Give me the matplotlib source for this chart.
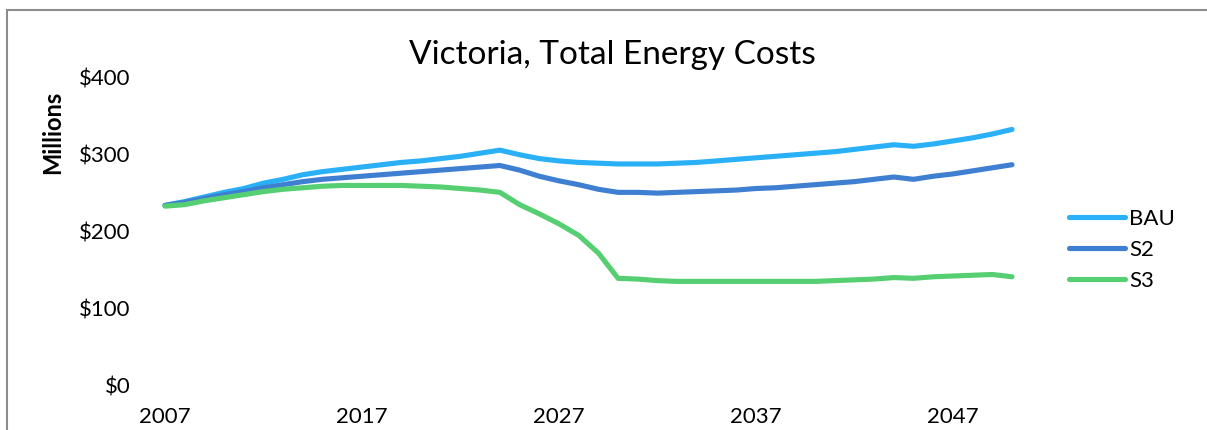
import matplotlib.pyplot as plt
from matplotlib.patches import Rectangle

years = list(range(2007, 2051))

bau = [234, 239, 245, 251, 256, 263, 268, 274, 278, 281,
       284, 287, 290, 292, 295, 298, 302, 306, 300, 295,
       292, 290, 289, 288, 288, 288, 289, 290, 292, 294,
       296, 298, 300, 302, 304, 307, 310, 313, 311, 314,
       318, 322, 327, 333]
s2 = [234, 238, 243, 248, 252, 257, 261, 265, 268, 270,
      272, 274, 276, 278, 280, 282, 284, 286, 280, 272,
      266, 261, 255, 251, 251, 250, 251, 252, 253, 254,
      256, 257, 259, 261, 263, 265, 268, 271, 268, 272,
      275, 279, 283, 287]
s3 = [233, 235, 240, 244, 248, 252, 255, 257, 259, 260,
      260, 260, 260, 259, 258, 256, 254, 251, 235, 223,
      210, 195, 172, 139, 138, 136, 135, 135, 135, 135,
      135, 135, 135, 135, 136, 137, 138, 140, 139, 141,
      142, 143, 144, 141]

series = [("BAU", bau, "#29B0F7"), ("S2", s2, "#3F7FD2"), ("S3", s3, "#56CF72")]
ytick_vals = [0, 100, 200, 300, 400]
xtick_vals = [2007, 2017, 2027, 2037, 2047]

plt.rcParams['font.family'] = ['Lato', 'DejaVu Sans']

W, H = 1207, 430
fig = plt.figure(figsize=(W / 100, H / 100), dpi=100)
ax = fig.add_axes([165 / W, (H - 385) / H, (1012 - 165) / W, (385 - 78) / H])

for name, vals, col in series:
    ax.plot(years, vals, color=col, lw=3.7, label=name, clip_on=False,
            solid_capstyle='round', solid_joinstyle='round')

ax.set_xlim(2007, 2050)
ax.set_ylim(0, 400)
ax.set_xticks(xtick_vals)
ax.set_xticklabels([str(v) for v in xtick_vals])
ax.set_yticks(ytick_vals)
ax.set_yticklabels(["$" + str(v) for v in ytick_vals])
ax.tick_params(length=0, labelsize=16, colors='black')
ax.tick_params(axis='y', pad=25)
ax.tick_params(axis='x', pad=16)
for sp in ax.spines.values():
    sp.set_visible(False)

fig.text(612 / W, (H - 55) / H, "Victoria, Total Energy Costs",
         ha='center', va='center', fontsize=24)
fig.text(53 / W, (H - 132) / H, "Millions", rotation=90, ha='center',
         va='center', fontsize=17, fontweight='bold')

ax.legend(loc='center left', bbox_to_anchor=(1058 / W, (H - 250) / H),
          bbox_transform=fig.transFigure, frameon=False, fontsize=16,
          handlelength=2.5, handletextpad=0.2, labelspacing=0.5, borderpad=0)

# chart frame, cut off at right and bottom like the reference
fig.patches.append(Rectangle((6.5 / W, -0.2), 1.2, (H - 9.5) / H + 0.2,
                             transform=fig.transFigure, fill=False,
                             edgecolor='#8C8C8C', lw=1.5))

fig.savefig("out.png", dpi=100)
